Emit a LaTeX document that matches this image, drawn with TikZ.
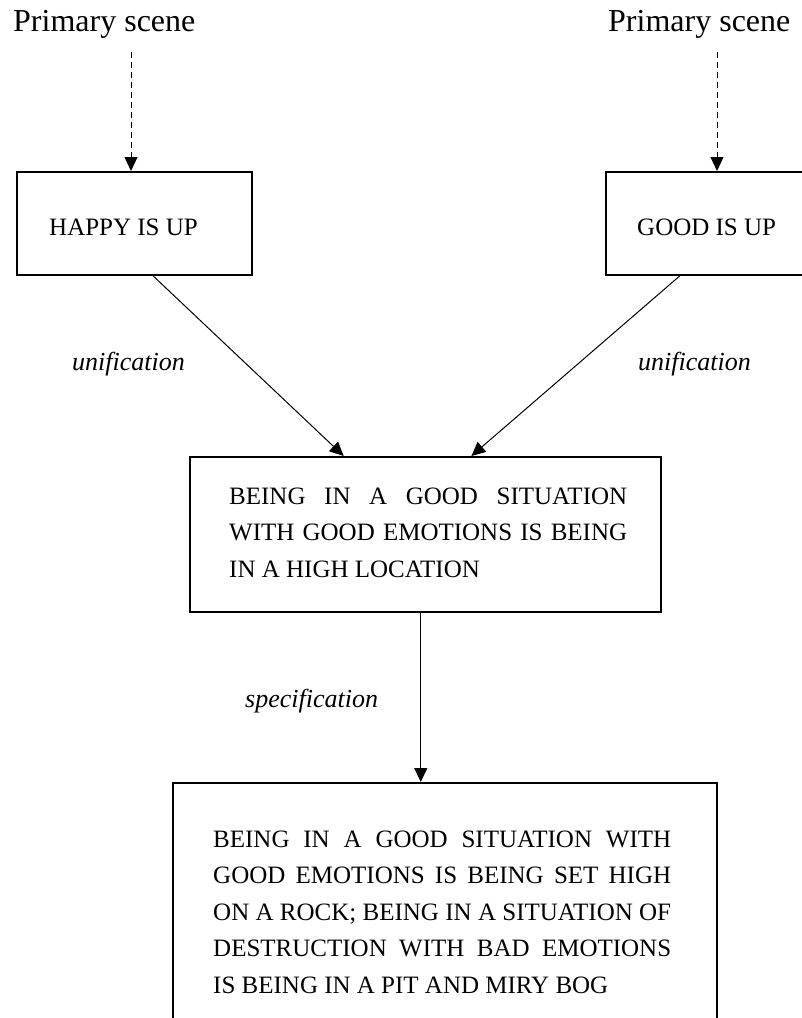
\documentclass[tikz,border=0pt]{standalone}
\usepackage{fontspec}
\setmainfont{Liberation Serif}
\usetikzlibrary{arrows.meta,calc}
\begin{document}
\begin{tikzpicture}[x=1pt,y=-1pt,
  box/.style={draw,line width=2pt,inner sep=0pt},
  boxtext/.style={inner sep=0pt,font=\fontsize{25}{36.5}\selectfont},
  para/.style={boxtext,align=justify},
  lab/.style={inner sep=0pt,font=\fontsize{26}{30}\selectfont\itshape},
  head/.style={inner sep=0pt,font=\fontsize{32}{36}\selectfont},
  link/.style={line width=1pt,-{Triangle[length=14pt,width=13pt]}},
  dlink/.style={link,dash pattern=on 6pt off 4pt}]
\useasboundingbox (0,0) rectangle (802,1018);
\clip (0,0) rectangle (802,1018);

% headings
\node[head,anchor=base west] (psL) at (13,31) {Primary scene};
\node[head,anchor=base west] (psR) at (608,31) {Primary scene};

% boxes
\node[box,minimum width=235,minimum height=103] (hap) at (134.5,223.5) {};
\node[box,minimum width=235,minimum height=103] (good) at (723.5,223.5) {};
\node[box,minimum width=471,minimum height=155] (mid) at (425.5,534.5) {};
\node[box,minimum width=544,minimum height=267] (low) at (445,916.5) {};

% box texts
\node[boxtext,anchor=base west] (hapt) at (49,235) {HAPPY IS UP};
\node[boxtext,anchor=base west] (goodt) at (637,235) {GOOD IS UP};
\node[para,text width=398,anchor=base west] (midt) at (229,504)
  {BEING IN A GOOD SITUATION\linebreak WITH GOOD EMOTIONS IS BEING\linebreak IN A HIGH LOCATION};
\node[para,text width=458,anchor=base west] (lowt) at (213,847)
  {BEING IN A GOOD SITUATION WITH\linebreak GOOD EMOTIONS IS BEING SET HIGH\linebreak
   ON A ROCK; BEING IN A SITUATION OF\linebreak DESTRUCTION WITH BAD EMOTIONS\linebreak
   IS BEING IN A PIT AND MIRY BOG};

% labels
\node[lab,anchor=base east] (uniL) at (185,370) {unification};
\node[lab,anchor=base west] (uniR) at (638,370) {unification};
\node[lab,anchor=base west] (spec) at (245,707) {specification};

% connectors
\coordinate (srcL) at (131,52);
\coordinate (srcR) at (717,52);
\draw[dlink] (srcL) -- (hap.north -| srcL);
\draw[dlink] (srcR) -- (good.north -| srcR);
\draw[link] ($(hap.south west)!0.579!(hap.south east)$) -- ($(mid.north west)!0.327!(mid.north east)$);
\draw[link] ($(good.south west)!0.315!(good.south east)$) -- ($(mid.north west)!0.597!(mid.north east)$);
\coordinate (vdown) at ($(mid.south west)!0.49!(mid.south east)$);
\draw[link] (vdown) -- (vdown |- low.north);
\end{tikzpicture}
\end{document}
